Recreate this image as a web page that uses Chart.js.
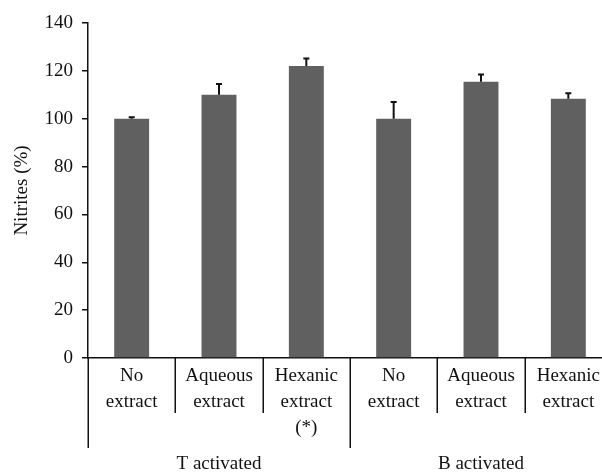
<!DOCTYPE html>
<html>
<head>
<meta charset="utf-8">
<script src="https://cdn.jsdelivr.net/npm/chart.js@4/dist/chart.umd.min.js"></script>
<style>
  html, body { margin: 0; padding: 0; background: #fff; overflow: hidden; }
  #wrap { width: 620px; height: 472px; }
</style>
</head>
<body>
<div id="wrap"><canvas id="c" width="620" height="472"></canvas></div>
<script>
// Nitrite production relative to untreated cells (%)
const categories = [
  ['No', 'extract'],
  ['Aqueous', 'extract'],
  ['Hexanic', 'extract', '(*)'],
  ['No', 'extract'],
  ['Aqueous', 'extract'],
  ['Hexanic', 'extract']
];
const nitrites = [100, 110, 122, 100, 115.5, 108.3];
const errors = [0.6, 4.5, 3.2, 7.0, 3.0, 2.3];
const groupNames = ['T activated', 'B activated'];
const groupSizes = [3, 3];
const yTicks = [0, 20, 40, 60, 80, 100, 120, 140];

const FONT = 'Liberation Serif, Times New Roman, serif';
const FSIZE = 19;
const INK = '#111';

// upward-only error bars with a small cap
const errorBars = {
  id: 'errorBars',
  afterDatasetsDraw(chart) {
    const ctx = chart.ctx;
    const y = chart.scales.y;
    const meta = chart.getDatasetMeta(0);
    ctx.save();
    ctx.strokeStyle = INK;
    ctx.lineWidth = 2;
    meta.data.forEach((bar, i) => {
      const top = y.getPixelForValue(nitrites[i] + errors[i]);
      const base = y.getPixelForValue(nitrites[i]);
      ctx.beginPath();
      ctx.moveTo(bar.x, base);
      ctx.lineTo(bar.x, top);
      ctx.moveTo(bar.x - 3, top);
      ctx.lineTo(bar.x + 3, top);
      ctx.stroke();
    });
    ctx.restore();
  }
};

// category separators and group labels under the x axis
const groupAxis = {
  id: 'groupAxis',
  afterDraw(chart) {
    const ctx = chart.ctx;
    const xs = chart.scales.x;
    const base = chart.chartArea.bottom;
    const groupStarts = [0];
    groupSizes.forEach(s => groupStarts.push(groupStarts[groupStarts.length - 1] + s));
    ctx.save();
    ctx.strokeStyle = INK;
    ctx.lineWidth = 1.5;
    for (let i = 0; i <= categories.length; i++) {
      const x = Math.round(xs.getPixelForValue(i - 0.5)) + 0.25;
      const len = groupStarts.includes(i) ? 90 : 55;
      ctx.beginPath();
      ctx.moveTo(x, base);
      ctx.lineTo(x, base + len);
      ctx.stroke();
    }
    ctx.fillStyle = INK;
    ctx.font = FSIZE + 'px ' + FONT;
    ctx.textAlign = 'center';
    ctx.textBaseline = 'middle';
    groupNames.forEach((name, g) => {
      const a = xs.getPixelForValue(groupStarts[g] - 0.5);
      const b = xs.getPixelForValue(groupStarts[g + 1] - 0.5);
      ctx.fillText(name, (a + b) / 2, base + 106);
    });
    ctx.restore();
  }
};

new Chart(document.getElementById('c'), {
  type: 'bar',
  data: {
    labels: categories,
    datasets: [{
      data: nitrites,
      backgroundColor: '#606060',
      borderWidth: 0,
      categoryPercentage: 0.4,
      barPercentage: 1.0
    }]
  },
  options: {
    responsive: false,
    devicePixelRatio: 1,
    animation: false,
    layout: { padding: { top: 23, right: 8, left: 0, bottom: 0 } },
    plugins: { legend: { display: false }, tooltip: { enabled: false } },
    scales: {
      x: {
        offset: true,
        grid: { display: false, drawTicks: false },
        border: { display: true, color: INK, width: 1.5 },
        ticks: {
          color: INK,
          padding: 5,
          maxRotation: 0,
          autoSkip: false,
          font: { family: FONT, size: FSIZE, lineHeight: 1.37 }
        },
        afterFit(scale) { scale.height = 114; }
      },
      y: {
        min: 0,
        max: 140,
        afterBuildTicks(scale) { scale.ticks = yTicks.map(v => ({ value: v })); },
        grid: { display: true, drawOnChartArea: false, drawTicks: true, tickLength: 6, color: INK, lineWidth: 1.5 },
        border: { display: true, color: INK, width: 1.5 },
        ticks: { color: INK, padding: 9, font: { family: FONT, size: FSIZE } },
        title: {
          display: true,
          text: 'Nitrites (%)',
          color: INK,
          padding: { top: 11, bottom: 0 },
          font: { family: FONT, size: FSIZE }
        },
        afterFit(scale) { scale.width = 88; }
      }
    }
  },
  plugins: [errorBars, groupAxis]
});
</script>
</body>
</html>
